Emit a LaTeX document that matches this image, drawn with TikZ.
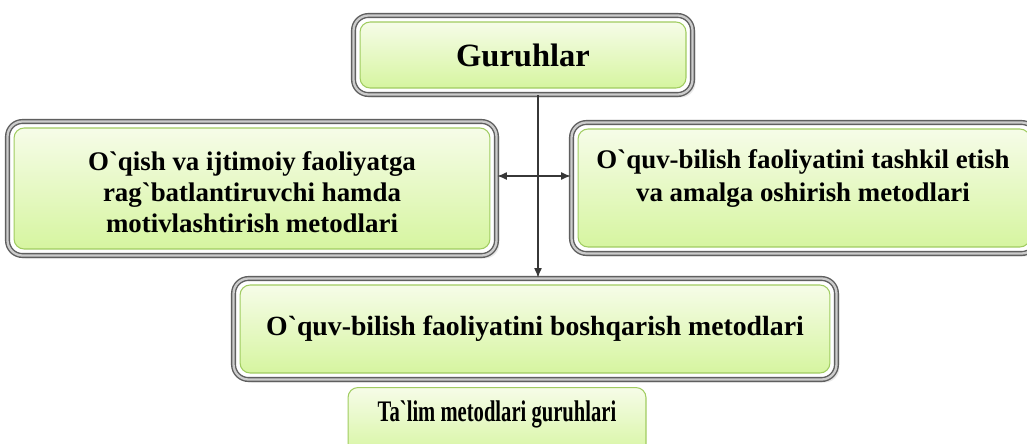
\documentclass[tikz,border=0pt]{standalone}
\usepackage{fontspec}
\setmainfont{Liberation Serif}[Ligatures=TeXOff]
\newfontfamily\narrowserif{Liberation Serif}[Ligatures=TeXOff, FakeStretch=0.69]
\usetikzlibrary{positioning,fit,backgrounds,arrows.meta,shadows}

\definecolor{leafTop}{RGB}{246,252,232}
\definecolor{leafBot}{RGB}{214,245,160}
\definecolor{leafEdge}{RGB}{160,204,96}
\definecolor{frameGray}{RGB}{95,95,95}
\definecolor{wireGray}{RGB}{55,55,55}

\newcommand{\boxfont}{\bfseries\fontsize{15.3}{17.5}\selectfont}

\begin{document}
\begin{tikzpicture}[x=0.02cm, y=-0.02cm,
  leaf/.style={draw=leafEdge, line width=0.6pt, rounded corners=0.2cm,
    top color=leafTop, bottom color=leafBot, align=center, inner sep=0pt, font=\boxfont},
  words/.style={align=center, inner sep=0pt, font=\boxfont},
  frame/.style={draw=frameGray, line width=0.8pt, double=gray!40, double distance=1.3pt,
    rounded corners=0.3cm, fill=white, inner sep=0.12cm,
    drop shadow={opacity=0.18, shadow xshift=0.06cm, shadow yshift=-0.06cm}},
  wire/.style={draw=wireGray, line width=0.8pt, -{Latex[length=5.5pt,width=4.5pt]}}
]
\useasboundingbox (0,0) rectangle (1027,443);

% green boxes
\node[leaf, minimum width=6.52cm, minimum height=1.32cm,
  font=\bfseries\fontsize{18.5}{22}\selectfont] (guruh) at (523,55) {Guruhlar};
\node[leaf, minimum width=9.52cm, minimum height=2.42cm] (chap) at (252,188.5) {};
\node[words] (chapTxt) at (252,192)
  {O`qish va ijtimoiy faoliyatga\\ rag`batlantiruvchi hamda\\ motivlashtirish metodlari};
\node[leaf, minimum width=9.04cm, minimum height=2.36cm] (on) at (804,188) {};
\node[words, font=\bfseries\fontsize{15.3}{19}\selectfont] (onTxt) at (803,178.5)
  {O`quv-bilish faoliyatini tashkil etish\\ va amalga oshirish metodlari};
\node[leaf, minimum width=11.8cm, minimum height=1.76cm,
  font=\bfseries\fontsize{15.8}{18}\selectfont] (bosh) at (535,329)
  {O`quv-bilish faoliyatini boshqarish metodlari};
\node[leaf, minimum width=5.96cm, minimum height=1.4cm, anchor=north] (talim) at (497,387) {};
\node[words, font=\narrowserif\bfseries\fontsize{17}{19}\selectfont] (talimTxt) at (497,414)
  {Ta`lim metodlari guruhlari};

% grey frames behind
\begin{scope}[on background layer]
  \fill[white] (0,0) rectangle (1027,443);
  \node[frame, fit=(guruh)] (guruhF) {};
  \node[frame, fit=(chap)] (chapF) {};
  \node[frame, fit=(on)] (onF) {};
  \node[frame, fit=(bosh)] (boshF) {};
\end{scope}

% connectors
\coordinate (hub) at (538,176);
\draw[wire] (guruhF.south -| hub) -- (boshF.north -| hub);
\draw[wire, {Latex[length=5.5pt,width=4.5pt]}-{Latex[length=5.5pt,width=4.5pt]}] (chapF.east |- hub) -- (onF.west |- hub);

\end{tikzpicture}
\end{document}
